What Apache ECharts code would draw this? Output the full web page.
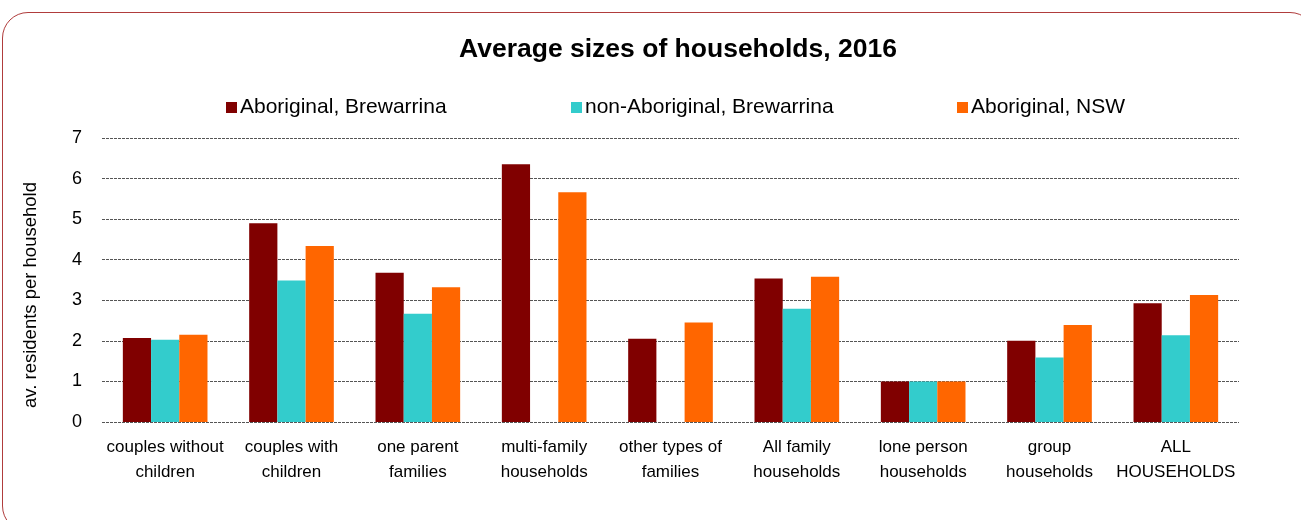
<!DOCTYPE html>
<html>
<head>
<meta charset="utf-8">
<script src="https://cdn.jsdelivr.net/npm/echarts@6/dist/echarts.min.js"></script>
<style>
  body { margin: 0; background: #fff; overflow: hidden; }
  #frame {
    position: absolute; left: 2px; top: 12px; width: 1314px; height: 520px;
    border: 1px solid #b03c3c; border-radius: 26px; box-sizing: border-box;
  }
  #chart { position: absolute; left: 0; top: 0; width: 1301px; height: 520px; }
</style>
</head>
<body>
<div id="frame"></div>
<div id="chart"></div>
<script>
const categories = [
  'couples without\nchildren', 'couples with\nchildren', 'one parent\nfamilies',
  'multi-family\nhouseholds', 'other types of\nfamilies', 'All family\nhouseholds',
  'lone person\nhouseholds', 'group\nhouseholds', 'ALL\nHOUSEHOLDS'
];
const seriesNames = ['Aboriginal, Brewarrina', 'non-Aboriginal, Brewarrina', 'Aboriginal, NSW'];
const aborBrewarrina = [2.07, 4.90, 3.68, 6.35, 2.05, 3.54, 1.00, 2.00, 2.93];
const nonAborBrewarrina = [2.03, 3.49, 2.67, null, null, 2.79, 1.00, 1.59, 2.14];
const aborNSW = [2.15, 4.34, 3.32, 5.66, 2.45, 3.58, 1.00, 2.39, 3.13];
const colors = ['#800000', '#33CCCC', '#FF6600'];
const legendLeft = [221, 566, 952];

const font = 'Liberation Sans, Arial, sans-serif';
const chart = echarts.init(document.getElementById('chart'));

chart.setOption({
  animation: false,
  color: colors,
  title: {
    text: 'Average sizes of households, 2016',
    left: 673, top: 31, textAlign: 'center',
    textStyle: { fontFamily: font, fontSize: 26.5, fontWeight: 'bold', color: '#000' }
  },
  legend: seriesNames.map((name, i) => ({
    data: [name],
    left: legendLeft[i], top: 92,
    itemWidth: 11, itemHeight: 11, itemGap: 4,
    icon: 'rect',
    textStyle: { fontFamily: font, fontSize: 21, color: '#000', padding: [0, 0, 0, -2] }
  })),
  grid: { left: 102, right: 62, top: 138, bottom: 98 },
  xAxis: {
    type: 'category',
    data: categories,
    axisTick: { show: false },
    axisLine: { show: false },
    axisLabel: { fontFamily: font, fontSize: 17, color: '#000', lineHeight: 25, margin: 13, interval: 0 }
  },
  yAxis: {
    type: 'value',
    min: 0, max: 7, interval: 1,
    name: 'av. residents per household',
    nameLocation: 'middle', nameGap: 62, nameRotate: 90,
    nameTextStyle: { fontFamily: font, fontSize: 18.5, color: '#000', padding: [0, 30, 0, 0] },
    axisLabel: { fontFamily: font, fontSize: 18, color: '#000', margin: 20 },
    splitLine: { lineStyle: { type: [3, 1], color: '#555', width: 1 } }
  },
  series: [aborBrewarrina, nonAborBrewarrina, aborNSW].map((d, i) => ({
    name: seriesNames[i],
    type: 'bar',
    data: d,
    barGap: '0%',
    barCategoryGap: '33%',
    itemStyle: { color: colors[i] }
  }))
});
</script>
</body>
</html>
